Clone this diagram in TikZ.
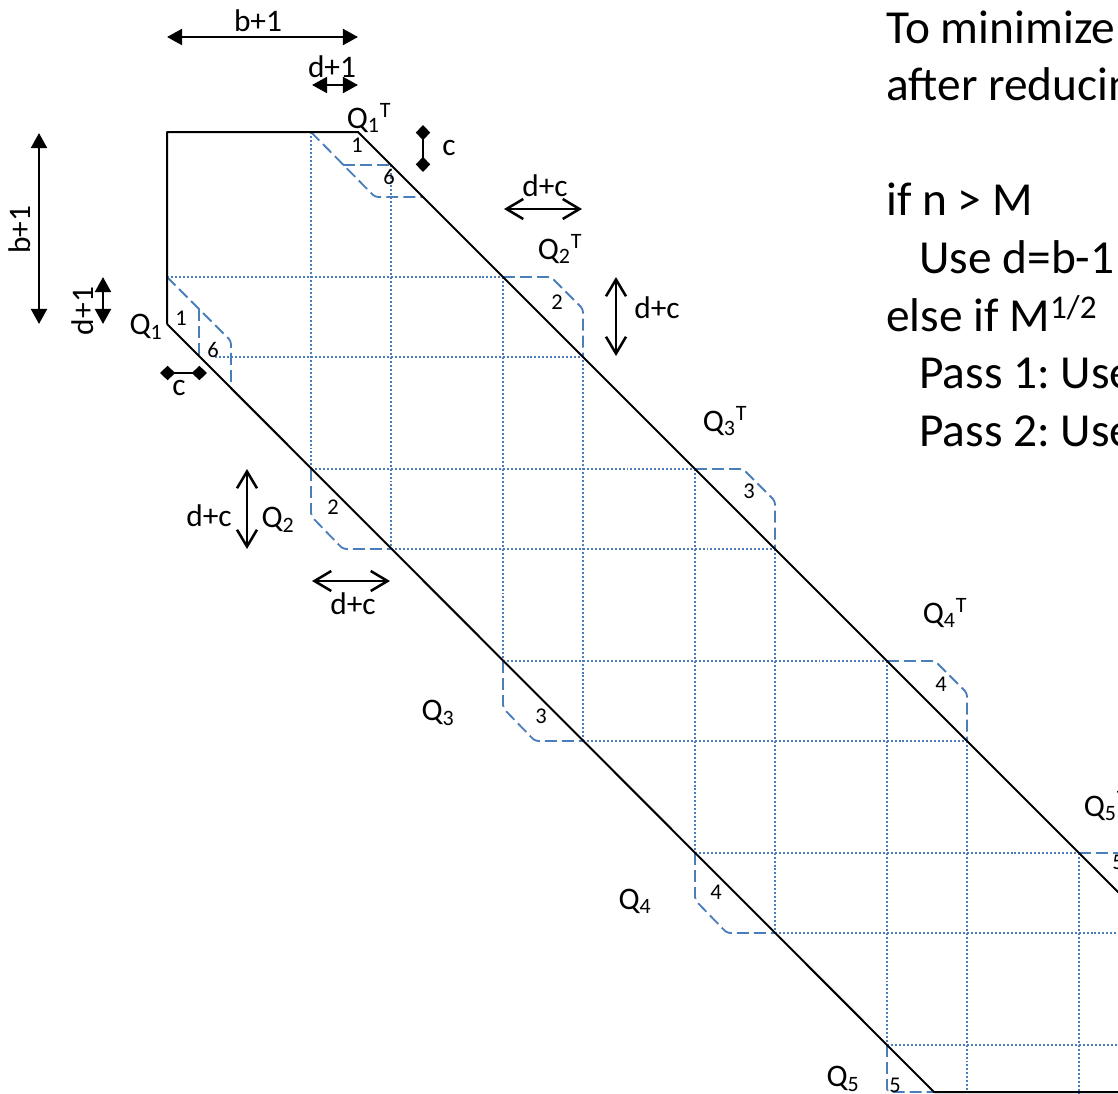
\documentclass[tikz,border=0pt]{standalone}
\usepackage{fontspec}
\setmainfont{Carlito}
\frenchspacing
\usetikzlibrary{arrows.meta, positioning}

\begin{document}
\begin{tikzpicture}[
        x=0.025cm, y=-0.025cm,
        band/.style={draw=black, line width=1.42pt, line join=round},
        gridline/.style={draw=gridblue, line width=1.42pt, dash pattern=on 1.42pt off 1.42pt},
        block/.style={draw=dashblue, line width=1.3pt, dash pattern=on 8.5pt off 3.6pt, rounded corners=0.08cm},
        solidspan/.style={{Triangle[length=0.38cm,width=0.4cm]}-{Triangle[length=0.38cm,width=0.4cm]}, line width=1.8pt},
        openspan/.style={{Straight Barb[length=0.42cm,width=0.5cm]}-{Straight Barb[length=0.42cm,width=0.5cm]}, line width=1.8pt},
        stepspan/.style={{Diamond[length=0.38cm,width=0.36cm]}-{Diamond[length=0.38cm,width=0.36cm]}, line width=1.8pt},
        dimlabel/.style={inner sep=0pt, font=\fontsize{22.3}{26}\selectfont},
        blocklabel/.style={inner sep=0pt, font=\fontsize{16}{19}\selectfont},
        notes/.style={inner sep=0pt, anchor=base west, font=\fontsize{33.7}{40}\selectfont}
    ]
    \definecolor{gridblue}{HTML}{4A7EBB}
    \definecolor{dashblue}{HTML}{4A7EBB}

    \useasboundingbox (0,0) rectangle (1118,1093);
    \clip (0,0) rectangle (1118,1093);

    % dotted grid
    \draw[gridline] (311,132) -- (311,468);
    \draw[gridline] (391,165) -- (391,548);
    \draw[gridline] (503,277) -- (503,660);
    \draw[gridline] (583,356) -- (583,740);
    \draw[gridline] (695,469) -- (695,852);
    \draw[gridline] (775,549) -- (775,932);
    \draw[gridline] (887,661) -- (887,1045);
    \draw[gridline] (967,741) -- (967,1093);
    \draw[gridline] (1079,853) -- (1079,1093);
    \draw[gridline] (167,277) -- (503,277);
    \draw[gridline] (215,357) -- (583,357);
    \draw[gridline] (311,469) -- (695,469);
    \draw[gridline] (391,549) -- (775,549);
    \draw[gridline] (503,661) -- (887,661);
    \draw[gridline] (583,741) -- (967,741);
    \draw[gridline] (695,853) -- (1079,853);
    \draw[gridline] (775,933) -- (1118,933);
    \draw[gridline] (887,1045) -- (1118,1045);

    % dashed blocks
    \draw[block] (311,132) -- (375,197) -- (423,197);
    \draw[block] (343,165) -- (391,165);
    \draw[block] (167,277) -- (231,341) -- (231,388);
    \draw[block] (199,309) -- (199,356);
    \draw[block] (503,277) -- (551,277) -- (583,309) -- (583,356);
    \draw[block] (695,469) -- (743,469) -- (775,501) -- (775,548);
    \draw[block] (887,661) -- (935,661) -- (967,693) -- (967,740);
    \draw[block] (1079,853) -- (1127,853);
    \draw[block] (311,469) -- (311,516) -- (343,549) -- (391,549);
    \draw[block] (503,661) -- (503,708) -- (535,741) -- (583,741);
    \draw[block] (695,853) -- (695,900) -- (727,933) -- (775,933);
    \draw[block] (887,1045) -- (887,1092) -- (934,1092);

    % band outline
    \draw[band] (167,324) -- (167,132) -- (358,132) -- (1128,902);
    \draw[band] (167,324) -- (934,1092) -- (1118,1092);

    % dimension arrows
    \coordinate (wl) at (167,37);
    \coordinate (wr) at (358,37);
    \coordinate (dl) at (312,85);
    \coordinate (dr) at (358,85);
    \coordinate (ht) at (39,133);
    \coordinate (hb) at (39,324);
    \coordinate (dt) at (103,277);
    \coordinate (db) at (103,324);
    \coordinate (ct) at (423,125);
    \coordinate (cb) at (423,172);
    \coordinate (cl) at (160,373);
    \coordinate (cr) at (207,373);
    \coordinate (ua) at (504,209);
    \coordinate (ub) at (582,209);
    \coordinate (va) at (616,277);
    \coordinate (vb) at (616,356);
    \coordinate (pa) at (247,469);
    \coordinate (pb) at (247,549);
    \coordinate (qa) at (312,581);
    \coordinate (qb) at (390,581);

    \draw[solidspan] (wl) -- (wr);
    \draw[solidspan] (dl) -- (dr);
    \draw[solidspan] (ht) -- (hb);
    \draw[solidspan] (dt) -- (db);
    \draw[stepspan] (ct) -- (cb);
    \draw[stepspan] (cl) -- (cr);
    \draw[openspan] (ua) -- (ub);
    \draw[openspan] (va) -- (vb);
    \draw[openspan] (pa) -- (pb);
    \draw[openspan] (qa) -- (qb);

    \node[dimlabel] (wlabel) at (258,21) {b+1};
    \node[dimlabel] (dlabel) at (332,67) {d+1};
    \node[dimlabel, rotate=90] (hlabel) at (20,230) {b+1};
    \node[dimlabel, rotate=90] (dvlabel) at (83,311) {d+1};
    \node[dimlabel] (clabel) at (449,148) {c};
    \node[dimlabel] (cdlabel) at (179,388) {c};
    \node[dimlabel] (ulabel) at (545,186) {d+c};
    \node[dimlabel] (vlabel) at (657,308) {d+c};
    \node[dimlabel] (plabel) at (209,516) {d+c};
    \node[dimlabel] (qlabel) at (353,604) {d+c};

    % queue names
    \node[dimlabel] (q1) at (146,327) {Q\textsubscript{1}};
    \node[dimlabel] (q2) at (278,520) {Q\textsubscript{2}};
    \node[dimlabel] (q3) at (438,713) {Q\textsubscript{3}};
    \node[dimlabel] (q4) at (635,901) {Q\textsubscript{4}};
    \node[dimlabel] (q5) at (843,1079) {Q\textsubscript{5}};
    \node[dimlabel] (q1t) at (369,118) {Q\textsubscript{1}\textsuperscript{T}};
    \node[dimlabel] (q2t) at (560,249) {Q\textsubscript{2}\textsuperscript{T}};
    \node[dimlabel] (q3t) at (725,421) {Q\textsubscript{3}\textsuperscript{T}};
    \node[dimlabel] (q4t) at (945,613) {Q\textsubscript{4}\textsuperscript{T}};
    \node[dimlabel] (q5t) at (1106,806) {Q\textsubscript{5}\textsuperscript{T}};

    % block numbers
    \node[blocklabel] (n1t) at (357,145) {1};
    \node[blocklabel] (n6t) at (389,177) {6};
    \node[blocklabel] (n1) at (181,318) {1};
    \node[blocklabel] (n6) at (213,350) {6};
    \node[blocklabel] (n2t) at (557,302) {2};
    \node[blocklabel] (n3t) at (749,491) {3};
    \node[blocklabel] (n4t) at (941,684) {4};
    \node[blocklabel] (n5t) at (1118,862) {5};
    \node[blocklabel] (n2) at (333,507) {2};
    \node[blocklabel] (n3) at (541,716) {3};
    \node[blocklabel] (n4) at (716,892) {4};
    \node[blocklabel] (n5) at (895,1085) {5};

    % text on the right
    \node[notes] (line1) at (886,43) {To minimize};
    \node[notes] (line2) at (886,100) {after reducin};
    \node[notes] (line3) at (886,215) {if n > M};
    \node[notes] (line4) at (919,273) {Use d=b-1};
    \node[notes] (line5) at (886,331) {else if M\textsuperscript{1/2}};
    \node[notes] (line6) at (919,388) {Pass 1: Use};
    \node[notes] (line7) at (919,446) {Pass 2: Use};

\end{tikzpicture}
\end{document}
